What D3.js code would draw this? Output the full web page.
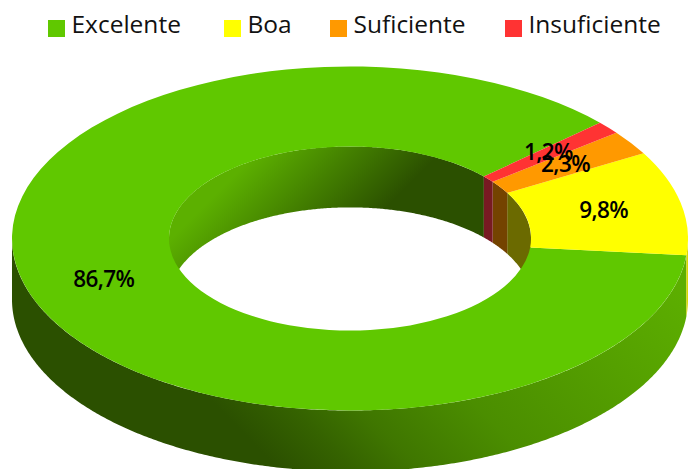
<!DOCTYPE html>
<html>
<head>
<meta charset="utf-8">
<script src="https://cdnjs.cloudflare.com/ajax/libs/d3/7.8.5/d3.min.js"></script>
<style>
  html, body { margin: 0; padding: 0; background: #fff; overflow: hidden; }
  svg { display: block; }
  .legend text { font-family: "Open Sans", sans-serif; font-size: 24.5px; fill: #111; }
  .label { font-family: "Open Sans", sans-serif; font-size: 22.5px; font-weight: 600; letter-spacing: -0.6px; fill: #000; text-anchor: middle; }
</style>
</head>
<body>
<svg id="draw"></svg>
<script>
// values
const categories = ["Excelente", "Boa", "Suficiente", "Insuficiente"];
const percents = [86.7, 9.8, 2.3, 1.2];
const labels = ["86,7%", "9,8%", "2,3%", "1,2%"];

const topColors = ["#60c800", "#ffff00", "#ff9900", "#ff3333"];
const innerColors = ["url(#innerGreen)", "#6b6a00", "#744300", "#781a22"];
const outerColors = ["url(#outerGreen)", "#d8d800", "#744300", "#781a22"];

const width = 688;
const height = 469;
const cx = 350;
const cy = 238.5;
const rx = 338;
const rxInner = 181;
const squash = 172 / 338;
const depth = 61;

const svg = d3.select("#draw").attr("width", width).attr("height", height);

const defs = svg.append("defs");

function addGradient(id, x1, y1, x2, y2, stops) {
  const g = defs.append("linearGradient")
    .attr("id", id)
    .attr("gradientUnits", "userSpaceOnUse")
    .attr("x1", x1).attr("y1", y1)
    .attr("x2", x2).attr("y2", y2);
  stops.forEach(function(s) {
    g.append("stop").attr("offset", s[0]).attr("stop-color", s[1]);
  });
}

addGradient("outerGreen", 250, 440, 540, 150, [
  [0, "#2b5000"], [0.13, "#356300"], [0.24, "#3f7600"], [0.45, "#4b8e00"], [0.79, "#56a200"], [1, "#5cae00"]
]);
addGradient("innerGreen", 170, 240, 262, 332, [[0, "#5cb000"], [1, "#2b5000"]]);

// the pie runs clockwise in the reference's legend order reversed, so go backwards
const deg = Math.PI / 180;
const pie = d3.pie()
  .sort(null)
  .startAngle(407.7 * deg)
  .endAngle(47.7 * deg);
const slices = pie(percents);

// walls, drawn from the same slice angles
function wall(radius, a0, a1) {
  const area = d3.area()
    .x(function(a) { return cx + radius * Math.sin(a); })
    .y0(function(a) { return cy - radius * squash * Math.cos(a); })
    .y1(function(a) { return cy - radius * squash * Math.cos(a) + depth; });
  const n = Math.max(2, Math.ceil((a1 - a0) / (0.5 * deg)));
  return area(d3.range(n + 1).map(function(i) { return a0 + (a1 - a0) * i / n; }));
}

function visibleParts(d, windows) {
  const lo = Math.min(d.startAngle, d.endAngle);
  const hi = Math.max(d.startAngle, d.endAngle);
  return windows
    .map(function(w) { return [Math.max(lo, w[0] * deg), Math.min(hi, w[1] * deg)]; })
    .filter(function(p) { return p[1] > p[0]; });
}

const walls = svg.append("g").attr("class", "walls");

slices.forEach(function(d, i) {
  visibleParts(d, [[90, 270]]).forEach(function(p) {
    walls.append("path").attr("d", wall(rx, p[0], p[1])).attr("fill", outerColors[i]);
  });
});
slices.forEach(function(d, i) {
  visibleParts(d, [[-90, 90], [270, 450]]).forEach(function(p) {
    walls.append("path").attr("d", wall(rxInner, p[0], p[1])).attr("fill", innerColors[i]);
  });
});

// top face covers everything outside the inner ellipse
const arc = d3.arc().innerRadius(rxInner).outerRadius(rx);

svg.append("g")
  .attr("class", "top")
  .attr("transform", "translate(" + cx + "," + cy + ") scale(1," + squash + ")")
  .selectAll("path")
  .data(slices)
  .enter().append("path")
  .attr("d", arc)
  .attr("fill", function(d, i) { return topColors[i]; });

svg.append("g")
  .selectAll("text")
  .data(slices)
  .enter().append("text")
  .attr("class", "label")
  .attr("x", function(d) { return cx + arc.centroid(d)[0]; })
  .attr("y", function(d) { return cy + arc.centroid(d)[1] * squash + 7; })
  .text(function(d, i) { return labels[i]; });

// legend
const legendX = d3.scaleOrdinal().domain(categories).range([48, 224, 330, 505]);
const legend = svg.append("g").attr("class", "legend");

legend.selectAll("rect")
  .data(categories)
  .enter().append("rect")
  .attr("x", function(d) { return legendX(d); })
  .attr("y", 20)
  .attr("width", 17)
  .attr("height", 17)
  .attr("fill", function(d, i) { return topColors[i]; });

legend.selectAll("text")
  .data(categories)
  .enter().append("text")
  .attr("x", function(d) { return legendX(d) + 23.5; })
  .attr("y", 33)
  .text(function(d) { return d; });
</script>
</body>
</html>
